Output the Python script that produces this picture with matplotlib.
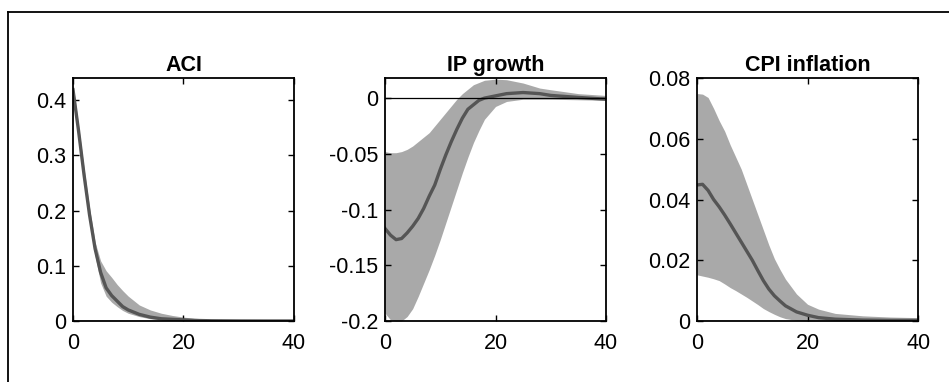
import matplotlib
matplotlib.use("Agg")
import matplotlib.pyplot as plt
from matplotlib.lines import Line2D
import numpy as np

plt.rcParams['font.family'] = ['Liberation Sans', 'DejaVu Sans']

titles = ["ACI", "IP growth", "CPI inflation"]

# ACI
aci_x = [0, 1, 2, 3, 4, 5, 6, 7, 8, 9, 10, 12, 14, 16, 18, 20, 22, 25, 30, 35, 40]
aci_med = [0.419, 0.345, 0.265, 0.192, 0.131, 0.088, 0.060, 0.046, 0.036, 0.026, 0.020,
           0.012, 0.007, 0.004, 0.003, 0.002, 0.001, 0.0004, 0.0001, 0.0, 0.0]
aci_up = [0.430, 0.355, 0.277, 0.205, 0.143, 0.109, 0.091, 0.079, 0.066, 0.055, 0.045,
          0.029, 0.020, 0.014, 0.010, 0.007, 0.005, 0.003, 0.0015, 0.001, 0.001]
aci_lo = [0.405, 0.335, 0.253, 0.180, 0.118, 0.069, 0.045, 0.034, 0.026, 0.019, 0.014,
          0.008, 0.004, 0.002, 0.001, 0.0, 0.0, 0.0, 0.0, 0.0, 0.0]

# IP growth
ip_x = [0, 1, 2, 3, 4, 5, 6, 7, 8, 9, 10, 11, 12, 13, 14, 15, 16, 17, 18, 20, 22, 25, 28, 30, 35, 40]
ip_med = [-0.117, -0.123, -0.127, -0.126, -0.121, -0.115, -0.108, -0.099, -0.088, -0.078,
          -0.064, -0.051, -0.039, -0.028, -0.018, -0.010, -0.006, -0.002, 0.0, 0.002,
          0.004, 0.005, 0.004, 0.0024, 0.0006, -0.001]
ip_up = [-0.048, -0.049, -0.049, -0.048, -0.046, -0.043, -0.039, -0.035, -0.031, -0.025,
         -0.019, -0.013, -0.007, -0.001, 0.004, 0.008, 0.012, 0.014, 0.016, 0.017,
         0.0165, 0.0135, 0.009, 0.0075, 0.004, 0.0024]
ip_lo = [-0.193, -0.199, -0.200, -0.200, -0.196, -0.189, -0.178, -0.166, -0.154, -0.141,
         -0.127, -0.112, -0.097, -0.082, -0.067, -0.053, -0.040, -0.029, -0.019, -0.0075,
         -0.003, -0.001, -0.001, -0.001, -0.0015, -0.002]

# CPI inflation
cpi_x = [0, 1, 2, 3, 4, 5, 6, 7, 8, 9, 10, 11, 12, 13, 14, 15, 16, 18, 20, 22, 25, 30, 35, 40]
cpi_med = [0.0448, 0.045, 0.043, 0.040, 0.0376, 0.0349, 0.032, 0.029, 0.026, 0.023, 0.020,
           0.0166, 0.0133, 0.0105, 0.0083, 0.0066, 0.005, 0.003, 0.0019, 0.0011, 0.0006,
           0.0003, 0.0002, 0.0002]
cpi_up = [0.0749, 0.0747, 0.0736, 0.070, 0.066, 0.0625, 0.058, 0.054, 0.050, 0.045, 0.040,
          0.035, 0.030, 0.025, 0.0205, 0.017, 0.0138, 0.0089, 0.0055, 0.0039, 0.0025,
          0.0017, 0.0013, 0.0011]
cpi_lo = [0.0152, 0.0148, 0.0144, 0.0139, 0.0133, 0.0122, 0.011, 0.010, 0.0089, 0.0078, 0.0066,
          0.0054, 0.0041, 0.0031, 0.0022, 0.0014, 0.0008, 0.0002, 0.0, 0.0, 0.0, 0.0, 0.0, 0.0]

panels = [
    (aci_x, aci_med, aci_up, aci_lo, (0, 0.44), [0, 0.1, 0.2, 0.3, 0.4], ["0", "0.1", "0.2", "0.3", "0.4"]),
    (ip_x, ip_med, ip_up, ip_lo, (-0.2, 0.018), [-0.2, -0.15, -0.1, -0.05, 0], ["-0.2", "-0.15", "-0.1", "-0.05", "0"]),
    (cpi_x, cpi_med, cpi_up, cpi_lo, (0, 0.08), [0, 0.02, 0.04, 0.06, 0.08], ["0", "0.02", "0.04", "0.06", "0.08"]),
]

fig = plt.figure(figsize=(9.49, 3.82), dpi=100)

lefts = [0.0769, 0.4057, 0.7345]
band_color = "#a9a9a9"
med_color = "#555555"

for i, (x, med, up, lo, ylim, yt, ytl) in enumerate(panels):
    ax = fig.add_axes([lefts[i], 0.1597, 0.2329, 0.636])
    ax.fill_between(x, lo, up, color=band_color, linewidth=0, zorder=1)
    ax.plot(x, med, color=med_color, linewidth=2.4, solid_joinstyle='round', zorder=2)
    ax.axhline(0, color="black", linewidth=0.9, zorder=3)
    ax.set_xlim(0, 40)
    ax.set_ylim(*ylim)
    ax.set_xticks([0, 20, 40])
    ax.set_xticklabels(["0", "20", "40"])
    ax.set_yticks(yt)
    ax.set_yticklabels(ytl)
    ax.tick_params(direction='in', top=True, right=True, length=4, width=1,
                   labelsize=15.5)
    ax.tick_params(axis='x', pad=9)
    ax.tick_params(axis='y', pad=5)
    for s in ax.spines.values():
        s.set_linewidth(1.3)
        s.set_zorder(4)
    ax.set_title(titles[i], fontsize=15.5, fontweight='bold', pad=5)

# outer frame (left and top edges)
fig.add_artist(Line2D([8/949, 8/949], [0, 1 - 12/382], transform=fig.transFigure,
                      color="black", linewidth=1.3))
fig.add_artist(Line2D([8/949, 1], [1 - 12/382, 1 - 12/382], transform=fig.transFigure,
                      color="black", linewidth=1.3))

fig.savefig("out.png", dpi=100)
